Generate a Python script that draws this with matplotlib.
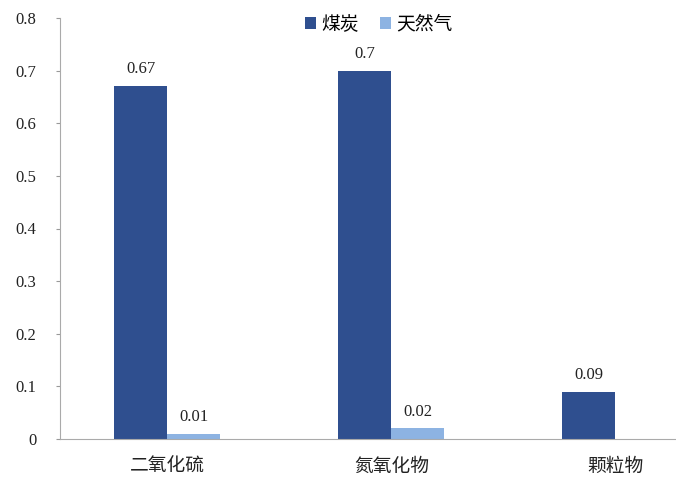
import matplotlib
matplotlib.use("Agg")
import matplotlib.pyplot as plt
import numpy as np

CATEGORIES = ["二氧化硫", "氮氧化物", "颗粒物"]
SERIES = ["煤炭", "天然气"]
COAL = [0.67, 0.7, 0.09]
GAS = [0.01, 0.02, None]   # no gas bar for 颗粒物
Y_TICKS = [0, 0.1, 0.2, 0.3, 0.4, 0.5, 0.6, 0.7, 0.8]
Y_TICK_LABELS = ["0", "0.1", "0.2", "0.3", "0.4", "0.5", "0.6", "0.7", "0.8"]

COAL_COLOR = "#2F4F8F"
GAS_COLOR = "#8DB3E2"
CJK = ["Noto Sans CJK SC", "DejaVu Sans"]
SERIF = "Liberation Serif"

fig = plt.figure(figsize=(6.76, 4.88), dpi=100)
ax = fig.add_axes([60 / 676, 49 / 488, 616 / 676, 421 / 488])

x = np.arange(len(CATEGORIES))
w = 0.237

gas_vals = [g if g is not None else 0 for g in GAS]
b1 = ax.bar(x - w / 2, COAL, w, color=COAL_COLOR, label=SERIES[0])
b2 = ax.bar(x + w / 2, gas_vals, w, color=GAS_COLOR, label=SERIES[1])

for bar, v in zip(b1, COAL):
    ax.text(bar.get_x() + bar.get_width() / 2, v + 0.017, f"{v:g}",
            ha="center", va="bottom", fontsize=12, family=SERIF, color="#222222")
for bar, v in zip(b2, GAS):
    if v is None:
        continue
    ax.text(bar.get_x() + bar.get_width() / 2, v + 0.017, f"{v:g}",
            ha="center", va="bottom", fontsize=12, family=SERIF, color="#222222")

ax.set_xlim(-0.478, 2.27)
ax.set_ylim(0, 0.8)
ax.set_yticks(Y_TICKS)
ax.set_yticklabels(Y_TICK_LABELS, family=SERIF, fontsize=12, color="#222222")
ax.set_xticks(x)
ax.set_xticklabels(CATEGORIES, family=CJK, fontsize=13.5, color="#222222")
ax.tick_params(axis="x", length=0, pad=12)
ax.tick_params(axis="y", length=3, color="#999999", pad=14)

for s in ["top", "right"]:
    ax.spines[s].set_visible(False)
ax.spines["left"].set_color("#aaaaaa")
ax.spines["bottom"].set_color("#aaaaaa")

leg = ax.legend(loc="upper left", bbox_to_anchor=(0.37, 1.05), ncol=2,
                frameon=False, handlelength=0.6, handleheight=0.6,
                handletextpad=0.3, columnspacing=1.1,
                prop={"family": CJK, "size": 13.5})

fig.savefig("out.png", dpi=100)
